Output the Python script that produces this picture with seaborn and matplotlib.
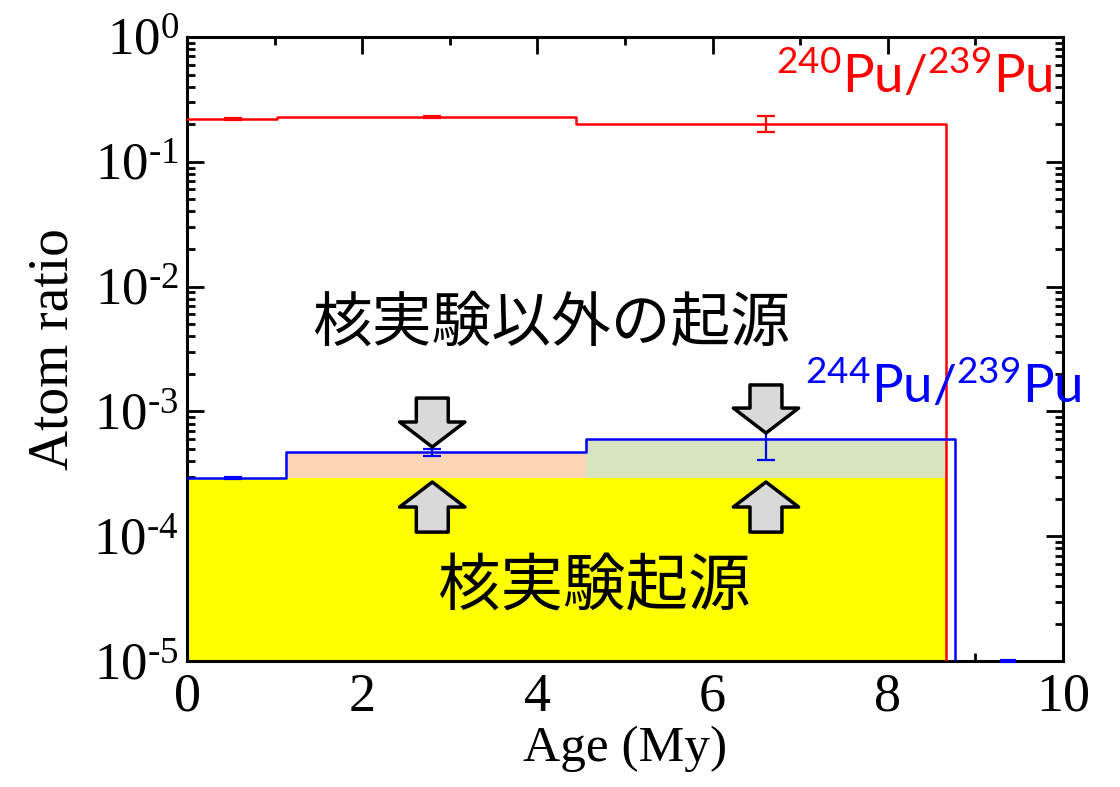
import numpy as np
import pandas as pd
import matplotlib
matplotlib.use("Agg")
import matplotlib.pyplot as plt
import seaborn as sns

# ---------------- data ----------------
# 240Pu/239Pu step profile (age bin edges, ratios)
red_edges = [0.0, 1.03, 4.44, 8.66]
red_ratio = [0.220, 0.229, 0.201]
red_end = 8.66
# 244Pu/239Pu step profile
blue_edges = [0.0, 1.13, 4.55, 8.77]
blue_ratio = [2.92e-4, 4.70e-4, 5.97e-4]
blue_end = 8.77
# error bars
red_err_x = [0.53, 2.80, 6.61]
red_err_y = [0.220, 0.229, 0.201]
red_err_lo = [0.004, 0.004, 0.029]
red_err_hi = [0.004, 0.004, 0.032]
blue_err_x = [0.53, 2.80, 6.61]
blue_err_y = [2.92e-4, 4.70e-4, 5.97e-4]
blue_err_lo = [5e-6, 3.2e-5, 1.89e-4]
blue_err_hi = [5e-6, 3.2e-5, 1.96e-4]
blue_tail_x = [9.28, 9.47]
blue_tail_y = 1.0e-5
# shaded regions
test_level = 2.92e-4          # nuclear test origin level
yellow_x = [0.0, 8.66]
peach_x = [1.14, 4.56]
peach_top = 4.70e-4
green_x = [4.56, 8.66]
green_top = 5.97e-4
# arrows (x, y_tail, y_head)
down_arrows = [(2.80, 1.28e-3, 5.19e-4), (6.61, 1.63e-3, 6.71e-4)]
up_arrows = [(2.80, 1.08e-4, 2.72e-4), (6.61, 1.08e-4, 2.72e-4)]

x_ticks = [0, 2, 4, 6, 8, 10]
x_minor = [1, 3, 5, 7, 9]
y_ticks = [1e-5, 1e-4, 1e-3, 1e-2, 1e-1, 1e0]
y_minor = [m * 10.0 ** k for k in range(-5, 0) for m in range(2, 10)]

# ---------------- style ----------------
sns.set_style("white")
plt.rcParams["font.family"] = ["Liberation Serif", "DejaVu Sans"]
plt.rcParams["mathtext.fontset"] = "custom"
plt.rcParams["mathtext.rm"] = "Liberation Serif"
plt.rcParams["mathtext.sf"] = "Lato"

fig = plt.figure(figsize=(11.2, 7.87), dpi=100)
ax = fig.add_axes([0.167, 0.160, 0.782, 0.793])
ax.set_yscale("log")
ax.set_xlim(0, 10)
ax.set_ylim(1e-5, 1e0)

# shaded regions
ax.fill_between(yellow_x, [1e-6, 1e-6], [test_level, test_level], color="#FFFF00", lw=0, zorder=1)
ax.fill_between(peach_x, [test_level] * 2, [peach_top] * 2, color="#FBD5B5", lw=0, zorder=1)
ax.fill_between(green_x, [test_level] * 2, [green_top] * 2, color="#D7E4BD", lw=0, zorder=1)

# step lines
red_df = pd.DataFrame({"age": red_edges + [red_end], "ratio": red_ratio + [red_ratio[-1], 1e-7]})
blue_df = pd.DataFrame({"age": blue_edges + [blue_end], "ratio": blue_ratio + [blue_ratio[-1], 1e-7]})
sns.lineplot(data=red_df, x="age", y="ratio", sort=False, estimator=None, errorbar=None,
             drawstyle="steps-post", color="#FF0000", lw=1.8, ax=ax, zorder=3)
sns.lineplot(data=blue_df, x="age", y="ratio", sort=False, estimator=None, errorbar=None,
             drawstyle="steps-post", color="#0000FF", lw=1.8, ax=ax, zorder=3)

ax.errorbar(red_err_x, red_err_y, yerr=[red_err_lo, red_err_hi], fmt="none",
            ecolor="#FF0000", elinewidth=1.6, capsize=6.5, capthick=1.6, zorder=4)
ax.errorbar(blue_err_x, blue_err_y, yerr=[blue_err_lo, blue_err_hi], fmt="none",
            ecolor="#0000FF", elinewidth=1.6, capsize=6.5, capthick=1.6, zorder=4)
ax.hlines(blue_tail_y, blue_tail_x[0], blue_tail_x[1], color="#0000FF", lw=3, zorder=4, clip_on=False)

# arrows
arrow_props = dict(arrowstyle="simple,head_length=18,head_width=47,tail_width=23",
                   mutation_scale=1, fc="#D9D9D9", ec="black", lw=2.5,
                   shrinkA=0, shrinkB=0)
for x, y0, y1 in down_arrows + up_arrows:
    ax.annotate("", xy=(x, y1), xytext=(x, y0), arrowprops=arrow_props, zorder=5)

# texts
ax.text(4.16, 5.0e-3, "核実験以外の起源", ha="center", va="center", fontsize=43,
        family=["Noto Sans CJK JP", "DejaVu Sans"], color="black", zorder=6)
ax.text(4.65, 3.9e-5, "核実験起源", ha="center", va="center", fontsize=45,
        family=["Noto Sans CJK JP", "DejaVu Sans"], color="black", zorder=6)
ax.text(6.73, 0.356, r"$\mathsf{{}^{240}Pu/{}^{239}Pu}$", color="#FF0000", fontsize=38,
        ha="left", va="baseline", zorder=6, clip_on=False)
ax.text(7.05, 1.17e-3, r"$\mathsf{{}^{244}Pu/{}^{239}Pu}$", color="#0000FF", fontsize=38,
        ha="left", va="baseline", zorder=6, clip_on=False)

# ---------------- axes formatting ----------------
# all tick positions are placed as major ticks; the "minor" ones get no label
# and a shorter tick length below
all_x = sorted(x_ticks + x_minor)
all_y = sorted(y_ticks + y_minor)
ax.set_xticks(all_x)
ax.set_xticklabels([str(t) if t in x_ticks else "" for t in all_x])
ax.set_yticks(all_y)
ylabels = []
for t in all_y:
    if any(abs(t - m) / m < 1e-9 for m in y_ticks):
        e = int(round(np.log10(t)))
        ylabels.append(r"$\mathdefault{10^{%s}}$" % ("0" if e == 0 else r"\text{-}%d" % (-e)))
    else:
        ylabels.append("")
ax.set_yticklabels(ylabels)
ax.xaxis.set_minor_locator(matplotlib.ticker.NullLocator())
ax.yaxis.set_minor_locator(matplotlib.ticker.NullLocator())
ax.set_xlim(0, 10)
ax.set_ylim(1e-5, 1e0)
ax.tick_params(which="both", direction="in", top=True, right=True, left=True, bottom=True,
               width=2, colors="black", length=12)
ax.tick_params(axis="x", labelsize=39, pad=8)
ax.tick_params(axis="y", labelsize=38, pad=6)
for s in ax.spines.values():
    s.set_linewidth(2.2)
    s.set_color("black")
ax.set_xlabel("Age (My)", fontsize=37, labelpad=2, color="black")
ax.set_ylabel("Atom ratio", fontsize=40, labelpad=10, color="black")
if ax.get_legend():
    ax.get_legend().remove()

# shorten the unlabeled (minor) ticks
for tick, loc in zip(ax.xaxis.get_major_ticks(len(all_x)), all_x):
    if loc not in x_ticks:
        tick.tick1line.set_markersize(6)
        tick.tick2line.set_markersize(6)
for tick, loc in zip(ax.yaxis.get_major_ticks(len(all_y)), all_y):
    if not any(abs(loc - m) / m < 1e-9 for m in y_ticks):
        tick.tick1line.set_markersize(6)
        tick.tick2line.set_markersize(6)

fig.savefig("out.png", dpi=100)
